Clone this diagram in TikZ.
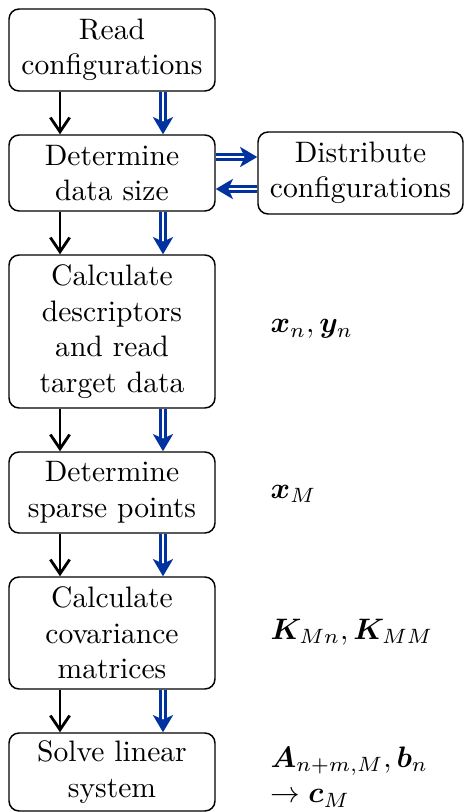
\documentclass[tikz,border=0pt]{standalone}
\usepackage{amsmath,bm}
\usetikzlibrary{arrows.meta}
\definecolor{flowblue}{RGB}{0,51,160}
\begin{document}
\begin{tikzpicture}[x=0.338pt,y=-0.338pt,
  stepbox/.style={draw, rounded corners=3.4pt, align=center, inner sep=0pt, minimum width=206*0.338pt, line width=0.5pt},
  blk/.style={line width=0.95pt, -{Straight Barb[length=4.8pt,width=6.5pt,line width=0.95pt]}},
  blu/.style={draw=flowblue, double=white, line width=0.85pt, double distance=0.9pt, -{Stealth[length=5.8pt,width=6.8pt,inset=1.5pt,fill=flowblue]}},
  lbl/.style={anchor=west, align=left, inner sep=0pt}]
\useasboundingbox (0,0) rectangle (463,812);
\node[stepbox, minimum height=82*0.338pt] (b1) at (112,50) {Read\\configurations};
\node[stepbox, minimum height=76*0.338pt] (b2) at (112,173) {Determine\\data size};
\node[stepbox, minimum height=82*0.338pt, minimum width=205*0.338pt] (dc) at (360.5,173) {Distribute\\configurations};
\node[stepbox, minimum height=153*0.338pt] (b3) at (112,331.5) {Calculate\\descriptors\\and read\\target data};
\node[stepbox, minimum height=81*0.338pt] (b4) at (112,492.5) {Determine\\sparse points};
\node[stepbox, minimum height=112*0.338pt] (b5) at (112,633) {Calculate\\covariance\\matrices};
\node[stepbox, minimum height=78*0.338pt] (b6) at (112,772) {Solve linear\\system};
\foreach \a/\b in {b1/b2,b2/b3,b3/b4,b4/b5,b5/b6}{
  \draw[blk] (\a.south -| 60,0) -- (\b.north -| 60,0);
  \draw[blu] (\a.south -| 163,0) -- (\b.north -| 163,0);
}
\draw[blu] (b2.east |- 0,157) -- (dc.west |- 0,157);
\draw[blu] (dc.west |- 0,189) -- (b2.east |- 0,189);
\node[lbl] (l3) at (270,329) {$\bm{x}_n, \bm{y}_n$};
\node[lbl] (l4) at (270,494) {$\bm{x}_M$};
\node[lbl] (l5) at (270,632) {$\bm{K}_{Mn}, \bm{K}_{MM}$};
\node[lbl] (l6) at (270,777) {$\bm{A}_{n+m,M}, \bm{b}_n$\\$\rightarrow \bm{c}_M$};
\end{tikzpicture}
\end{document}
